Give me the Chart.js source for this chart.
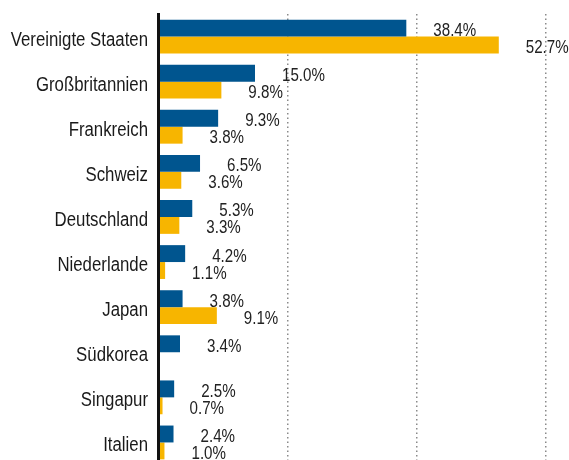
<!DOCTYPE html>
<html lang="de">
<head>
<meta charset="utf-8">
<title>Länder</title>
<script src="https://cdn.jsdelivr.net/npm/chart.js@4.4.1/dist/chart.umd.min.js"></script>
<style>
  html, body { margin: 0; padding: 0; background: #fff; overflow: hidden; }
  canvas { display: block; }
</style>
</head>
<body>
<canvas id="laenderChart" width="569" height="466"></canvas>
<script>
// Daten
const laender = [
  "Vereinigte Staaten",
  "Großbritannien",
  "Frankreich",
  "Schweiz",
  "Deutschland",
  "Niederlande",
  "Japan",
  "Südkorea",
  "Singapur",
  "Italien",
];
const reiheBlau = [38.4, 15.0, 9.3, 6.5, 5.3, 4.2, 3.8, 3.4, 2.5, 2.4];
const reiheGelb = [52.7, 9.8, 3.8, 3.6, 3.3, 1.1, 9.1, null, 0.7, 1.0];
const xTicks = [0, 20, 40, 60];

const FONT = "'Liberation Sans', Arial, sans-serif";
const SQUEEZE = 0.84; // schmale Schrift nachbilden

function narrowText(ctx, text, x, y, align) {
  ctx.save();
  ctx.translate(x, y);
  ctx.scale(SQUEEZE, 1);
  ctx.textAlign = align;
  ctx.fillText(text, 0, 0);
  ctx.restore();
}

// Länderbeschriftung und Wertbeschriftungen
const textLabels = {
  id: "textLabels",
  afterDraw(chart) {
    const ctx = chart.ctx;
    const yScale = chart.scales.y;
    ctx.save();
    ctx.textBaseline = "alphabetic";

    ctx.font = "20px " + FONT;
    ctx.fillStyle = "#1a1a1a";
    chart.data.labels.forEach((name, i) => {
      narrowText(ctx, name, yScale.right - 10, yScale.getPixelForValue(i) + 9, "right");
    });

    ctx.font = "18px " + FONT;
    ctx.fillStyle = "#222";
    chart.data.datasets.forEach((ds, i) => {
      chart.getDatasetMeta(i).data.forEach((bar, j) => {
        const v = ds.data[j];
        if (v === null || v === undefined) return;
        narrowText(ctx, v.toFixed(1) + "%", bar.x + 27, bar.y + 8, "left");
      });
    });
    ctx.restore();
  },
};

new Chart(document.getElementById("laenderChart"), {
  type: "bar",
  data: {
    labels: laender,
    datasets: [
      {
        label: "Reihe A",
        data: reiheBlau,
        backgroundColor: "#00558f",
        categoryPercentage: 0.75,
        barPercentage: 1.0,
      },
      {
        label: "Reihe B",
        data: reiheGelb,
        backgroundColor: "#f7b500",
        categoryPercentage: 0.75,
        barPercentage: 1.0,
      },
    ],
  },
  plugins: [textLabels],
  options: {
    indexAxis: "y",
    responsive: false,
    animation: false,
    layout: {
      padding: { top: 14, right: 23, bottom: 1, left: 0 },
    },
    plugins: {
      legend: { display: false },
      tooltip: { enabled: false },
    },
    scales: {
      x: {
        min: xTicks[0],
        max: xTicks[xTicks.length - 1],
        afterBuildTicks: (scale) => {
          scale.ticks = xTicks.map((v) => ({ value: v }));
        },
        ticks: { display: false },
        border: { display: false, dash: [1.5, 3] },
        grid: {
          color: "#8a8a8a",
          lineWidth: 1.5,
          drawTicks: false,
        },
        afterFit: (scale) => {
          scale.height = 0;
        },
      },
      y: {
        afterFit: (scale) => {
          scale.width = 158;
        },
        ticks: { display: false },
        grid: { display: false, drawTicks: false },
        border: { display: true, color: "#111", width: 3, z: 1 },
      },
    },
  },
});
</script>
</body>
</html>
